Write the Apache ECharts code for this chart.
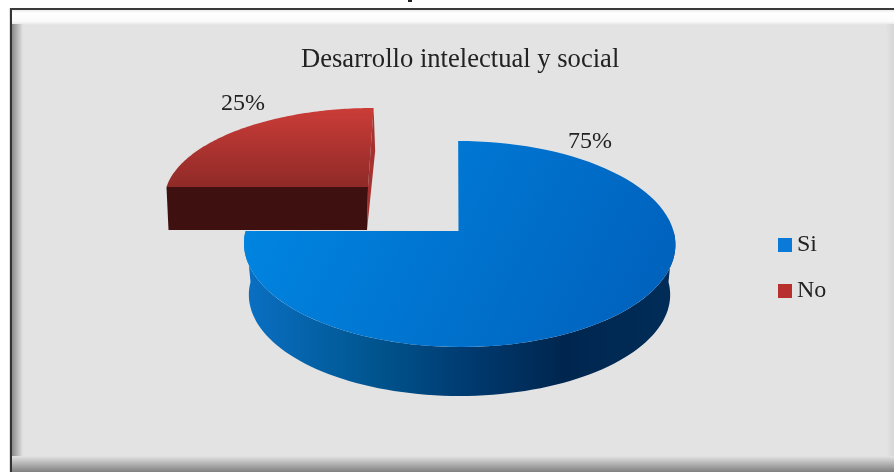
<!DOCTYPE html>
<html><head><meta charset="utf-8">
<style>html,body{margin:0;padding:0;background:#fff}#c{width:894px;height:472px}</style>
<script src="https://cdn.jsdelivr.net/npm/echarts@6/dist/echarts.min.js"></script>
</head><body><div id="c"></div>
<script>
var titleText = 'Desarrollo intelectual y social';
var categories = ['Si', 'No'];
var values = [75, 25];
var total = values[0] + values[1];
var FONT = '"Liberation Serif", serif';

// Tilted-disc projection: a = clockwise angle from 12 o'clock.
function proj(g, a) {
  var u = Math.sin(a), v = Math.cos(a), w = 1 + g.k * v;
  return [g.cx + (g.B * u + g.S * v) / w, g.cy - g.A * v / w];
}
function rim(g, a0, a1) {
  var pts = [], n = 90;
  for (var i = 0; i <= n; i++) pts.push(proj(g, a0 + (a1 - a0) * i / n));
  return pts;
}
function linear(x, y, x2, y2, stops) {
  return new echarts.graphic.LinearGradient(x, y, x2, y2, stops);
}
function label(text, x, y) {
  return { type: 'text', style: { text: text, x: x, y: y, align: 'center', verticalAlign: 'middle',
    font: '24px ' + FONT, fill: '#222' } };
}
var TAU = Math.PI * 2;

function renderSi(params, api) {
  var v = api.value(0), a0 = 0, a1 = TAU * v / total;
  var top = { cx: 459.5, cy: 231, A: 101.4, B: 214, S: -1.5, k: 0.126 };
  var bot = { cx: 459.5, cy: 282, A: 99.6, B: 209, S: 0, k: 0.126 };
  var wallTop = rim(top, Math.PI / 2, a1);
  var wallBot = rim(bot, Math.PI / 2, a1).reverse();
  var face = rim(top, a0, a1).concat([[458.5, top.cy]]);
  return { type: 'group', children: [
    { type: 'polygon', shape: { points: wallTop.concat(wallBot) }, style: { fill: linear(0, 0, 1, 0, [
      { offset: 0, color: '#0a70c4' }, { offset: 0.3, color: '#00558f' }, { offset: 0.52, color: '#003a70' },
      { offset: 0.74, color: '#00264f' }, { offset: 1, color: '#002d58' }]) } },
    { type: 'polygon', shape: { points: face }, style: { fill: linear(0, 0, 1, 1, [
      { offset: 0, color: '#0088e4' }, { offset: 1, color: '#005fba' }]) } },
    label(Math.round(v / total * 100) + '%', 590, 142)
  ] };
}
function renderNo(params, api) {
  var v = api.value(0), a1 = TAU, a0 = TAU * (1 - v / total);
  var top = { cx: 370.5, cy: 187, A: 89, B: 204, S: 3.5, k: 0.126 };
  var bot = { cx: 368.5, cy: 230, A: 89, B: 200, S: 7.5, k: 0.126 };
  var vTop = [368, 187], vBot = [367, 230];
  var pl = proj(top, a0), plb = proj(bot, a0), pa = proj(top, a1), pab = proj(bot, a1);
  return { type: 'group', children: [
    { type: 'polygon', shape: { points: [pa, pab, vBot, vTop] }, style: { fill: '#a53230' } },
    { type: 'polygon', shape: { points: [[pl[0], 187], vTop, vBot, [plb[0], 230]] }, style: { fill: '#3e100f' } },
    { type: 'polygon', shape: { points: rim(top, a0, a1).concat([vTop]) }, style: { fill: linear(0, 0, 0, 1, [
      { offset: 0, color: '#cb3c38' }, { offset: 1, color: '#8f2a27' }]) } },
    label(Math.round(v / total * 100) + '%', 243, 104)
  ] };
}

var chart = echarts.init(document.getElementById('c'), null, { renderer: 'canvas' });
chart.setOption({
  animation: false,
  backgroundColor: '#ffffff',
  graphic: { elements: [
    { type: 'rect', z: 0, shape: { x: 11, y: 9, width: 883, height: 463 }, style: { fill: '#e3e3e3' } },
    { type: 'rect', z: 0, shape: { x: 11, y: 10, width: 883, height: 15 }, style: { fill: linear(0, 0, 0, 1, [
      { offset: 0, color: '#ececec' }, { offset: 0.2, color: '#ffffff' }, { offset: 0.75, color: '#fbfbfb' }, { offset: 1, color: '#e3e3e3' }]) } },
    { type: 'rect', z: 0, shape: { x: 12, y: 24, width: 11, height: 436 }, style: { fill: linear(0, 0, 1, 0, [
      { offset: 0, color: '#8a8a8a' }, { offset: 1, color: '#e3e3e3' }]) } },
    { type: 'rect', z: 0, shape: { x: 886, y: 24, width: 8, height: 436 }, style: { fill: linear(0, 0, 1, 0, [
      { offset: 0, color: '#e3e3e3' }, { offset: 1, color: '#d6d6d6' }]) } },
    { type: 'rect', z: 0, shape: { x: 12, y: 456, width: 882, height: 16 }, style: { fill: linear(0, 0, 0, 1, [
      { offset: 0, color: '#e3e3e3' }, { offset: 1, color: '#808080' }]) } },
    { type: 'rect', z: 1, shape: { x: 10, y: 8, width: 2, height: 464 }, style: { fill: '#333333' } },
    { type: 'rect', z: 1, shape: { x: 10, y: 8, width: 884, height: 2 }, style: { fill: '#3a3a3a' } },
    { type: 'rect', z: 1, shape: { x: 9, y: 8, width: 1, height: 464 }, style: { fill: '#cfe8f2' } },
    { type: 'rect', z: 1, shape: { x: 408, y: 0, width: 4, height: 2 }, style: { fill: '#222222' } }
  ] },
  title: { text: titleText, left: 301, top: 47, padding: 0,
    textStyle: { fontFamily: FONT, fontSize: 26.6, fontWeight: 'normal', color: '#222' } },
  legend: { orient: 'vertical', left: 778, top: 233, padding: 0, itemWidth: 14, itemHeight: 14, itemGap: 22,
    icon: 'rect', selectedMode: false,
    textStyle: { fontFamily: FONT, fontSize: 24, color: '#222', padding: [0, 0, 0, 0] },
    data: [
      { name: categories[0], itemStyle: { color: '#0a7ad8' } },
      { name: categories[1], itemStyle: { color: '#b8302e' } }
    ] },
  series: [
    { type: 'custom', name: categories[0], coordinateSystem: 'none', renderItem: renderSi, data: [[values[0]]], itemStyle: { color: '#0a7ad8' }, z: 2 },
    { type: 'custom', name: categories[1], coordinateSystem: 'none', renderItem: renderNo, data: [[values[1]]], itemStyle: { color: '#b8302e' }, z: 3 }
  ]
});
</script></body></html>
